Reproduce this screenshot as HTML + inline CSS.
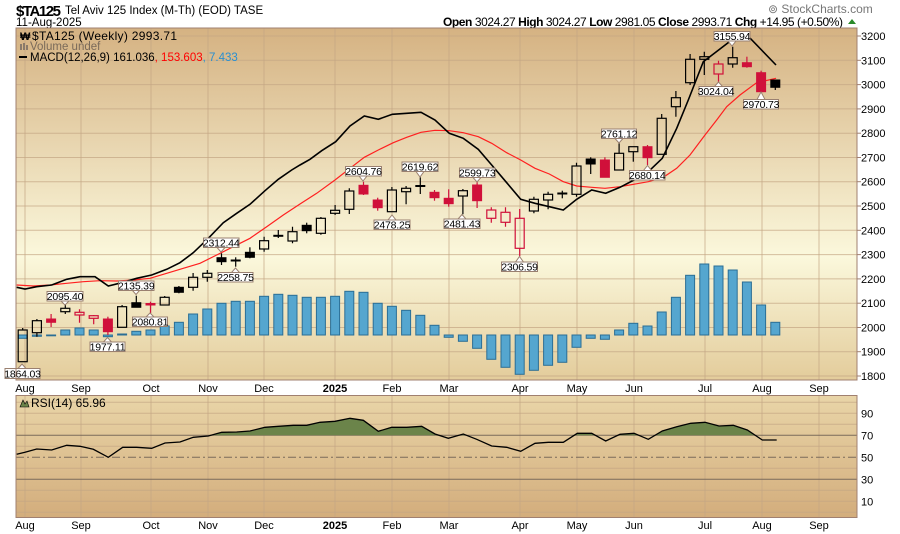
<!DOCTYPE html>
<html><head><meta charset="utf-8"><style>
html,body{margin:0;padding:0;background:#fff;}
svg{display:block;font-family:"Liberation Sans",sans-serif;}
.hb rect{fill:none;stroke:#000;stroke-width:1.2}
.hb path{stroke:#000;stroke-width:1.2;fill:none}
.fb rect{fill:#000;stroke:#000;stroke-width:1}
.fb path{stroke:#000;stroke-width:1.2}
.hr rect{fill:none;stroke:#d0103a;stroke-width:1.2}
.hr path{stroke:#d0103a;stroke-width:1.2;fill:none}
.fr rect{fill:#d0103a;stroke:#d0103a;stroke-width:1}
.fr path{stroke:#d0103a;stroke-width:1.2}
.lb rect{fill:#fff;stroke:#9a8070;stroke-width:1}
.lb polygon{fill:#fff;stroke:#9a8070}
.lb text{font-size:10.5px;fill:#000;text-anchor:middle;letter-spacing:-0.2px}
.grid line{stroke:#c4a684;stroke-width:1;opacity:.7}
.ax{font-size:11px;fill:#000}
</style></head><body>
<svg width="900" height="534" viewBox="0 0 900 534" xmlns="http://www.w3.org/2000/svg">
<defs>
<linearGradient id="gm" x1="0" y1="0" x2="0" y2="1">
<stop offset="0" stop-color="#d5b282"/><stop offset="0.65" stop-color="#fbf8dc"/><stop offset="1" stop-color="#e3cc9b"/>
</linearGradient>
<linearGradient id="gr" x1="0" y1="0" x2="0" y2="1">
<stop offset="0" stop-color="#e9d5a8"/><stop offset="1" stop-color="#d3ad7c"/>
</linearGradient>
<clipPath id="rc"><rect x="16" y="395.5" width="841" height="122"/></clipPath>
</defs>

<!-- header -->
<text x="16" y="16" font-size="15" font-weight="bold" textLength="45">$TA125</text>
<text x="65" y="14" font-size="11.5">Tel Aviv 125 Index (M-Th) (EOD)  TASE</text>
<text x="16" y="26" font-size="11.5">11-Aug-2025</text>
<text x="768" y="13" font-size="12" fill="#777">⊚ StockCharts.com</text>
<text x="443" y="26" font-size="12" textLength="400"><tspan font-weight="bold">Open</tspan> 3024.27  <tspan font-weight="bold">High</tspan> 3024.27  <tspan font-weight="bold">Low</tspan> 2981.05  <tspan font-weight="bold">Close</tspan> 2993.71  <tspan font-weight="bold">Chg</tspan> +14.95 (+0.50%)</text>
<polygon points="848,24 856,24 852,19" fill="#2a8a2a"/>

<!-- main panel -->
<rect x="16" y="28" width="841" height="352" fill="url(#gm)"/>
<g class="grid">
<line x1="16" x2="857" y1="36" y2="36"/><line x1="16" x2="857" y1="60.3" y2="60.3"/><line x1="16" x2="857" y1="84.6" y2="84.6"/><line x1="16" x2="857" y1="108.9" y2="108.9"/><line x1="16" x2="857" y1="133.2" y2="133.2"/><line x1="16" x2="857" y1="157.5" y2="157.5"/><line x1="16" x2="857" y1="181.7" y2="181.7"/><line x1="16" x2="857" y1="206" y2="206"/><line x1="16" x2="857" y1="230.3" y2="230.3"/><line x1="16" x2="857" y1="254.6" y2="254.6"/><line x1="16" x2="857" y1="278.9" y2="278.9"/><line x1="16" x2="857" y1="303.2" y2="303.2"/><line x1="16" x2="857" y1="327.5" y2="327.5"/><line x1="16" x2="857" y1="351.7" y2="351.7"/><line x1="16" x2="857" y1="376" y2="376"/>
<line x1="25" x2="25" y1="28" y2="380"/><line x1="81" x2="81" y1="28" y2="380"/><line x1="151" x2="151" y1="28" y2="380"/><line x1="208" x2="208" y1="28" y2="380"/><line x1="264" x2="264" y1="28" y2="380"/><line x1="335" x2="335" y1="28" y2="380"/><line x1="392" x2="392" y1="28" y2="380"/><line x1="449" x2="449" y1="28" y2="380"/><line x1="520" x2="520" y1="28" y2="380"/><line x1="577" x2="577" y1="28" y2="380"/><line x1="634" x2="634" y1="28" y2="380"/><line x1="705" x2="705" y1="28" y2="380"/><line x1="762" x2="762" y1="28" y2="380"/><line x1="819" x2="819" y1="28" y2="380"/>
</g>

<!-- histogram -->
<g fill="#55a6cf" stroke="#2b6e95" stroke-width="1">
<rect x="18.2" y="335" width="9" height="3.3"/><rect x="32.4" y="335" width="9" height="1.3"/><rect x="46.6" y="335" width="9" height="0.8"/><rect x="60.8" y="330" width="9" height="5"/><rect x="75" y="328" width="9" height="7"/><rect x="89.2" y="330" width="9" height="5"/><rect x="103.4" y="335" width="9" height="1.7"/><rect x="117.6" y="334" width="9" height="1"/><rect x="131.8" y="331.3" width="9" height="3.7"/><rect x="146" y="330" width="9" height="5"/><rect x="160.2" y="326" width="9" height="9"/><rect x="174.4" y="322.3" width="9" height="12.7"/><rect x="188.6" y="314" width="9" height="21"/><rect x="202.8" y="309" width="9" height="26"/><rect x="217" y="303.3" width="9" height="31.7"/><rect x="231.2" y="301.3" width="9" height="33.7"/><rect x="245.4" y="301.3" width="9" height="33.7"/><rect x="259.6" y="296.3" width="9" height="38.7"/><rect x="273.8" y="294.3" width="9" height="40.7"/><rect x="288" y="295.3" width="9" height="39.7"/><rect x="302.2" y="297.3" width="9" height="37.7"/><rect x="316.4" y="297.3" width="9" height="37.7"/><rect x="330.6" y="296.3" width="9" height="38.7"/><rect x="344.8" y="291.3" width="9" height="43.7"/><rect x="359" y="292.3" width="9" height="42.7"/><rect x="373.2" y="303.3" width="9" height="31.7"/><rect x="387.4" y="306.3" width="9" height="28.7"/><rect x="401.6" y="310.3" width="9" height="24.7"/><rect x="415.8" y="315.3" width="9" height="19.7"/><rect x="430" y="325.3" width="9" height="9.7"/><rect x="444.2" y="335" width="9" height="2.3"/><rect x="458.4" y="335" width="9" height="6.3"/><rect x="472.6" y="335" width="9" height="13.3"/><rect x="486.8" y="335" width="9" height="24.3"/><rect x="501" y="335" width="9" height="32.3"/><rect x="515.2" y="335" width="9" height="39.3"/><rect x="529.4" y="335" width="9" height="35.3"/><rect x="543.6" y="335" width="9" height="30.3"/><rect x="557.8" y="335" width="9" height="27.3"/><rect x="572" y="335" width="9" height="12.3"/><rect x="586.2" y="335" width="9" height="3.3"/><rect x="600.4" y="335" width="9" height="4.3"/><rect x="614.6" y="330" width="9" height="5"/><rect x="628.8" y="323.3" width="9" height="11.7"/><rect x="643" y="326" width="9" height="9"/><rect x="657.2" y="312" width="9" height="23"/><rect x="671.4" y="297.3" width="9" height="37.7"/><rect x="685.6" y="275.3" width="9" height="59.7"/><rect x="699.8" y="264" width="9" height="71"/><rect x="714" y="266" width="9" height="69"/><rect x="728.2" y="270" width="9" height="65"/><rect x="742.4" y="282" width="9" height="53"/><rect x="756.6" y="305" width="9" height="30"/><rect x="770.8" y="322.3" width="9" height="12.7"/>
</g>

<!-- MACD lines -->
<polyline fill="none" stroke="#ff2020" stroke-width="1.2" points="16.7,285 33.3,286 50,285 66.7,283.3 83.3,281.7 100,280.7 116.7,281 133.3,280 150,278.3 166.7,273.3 183.3,268.3 200,263.3 216.7,255 233.3,246.7 250,238.3 266.7,226.7 283.3,215 300,204 316.7,193.3 335,180 350,168.3 364.3,157.3 378.3,150 393.3,142.7 406.7,137.3 421,132.3 435,130.3 449.3,130.7 463.3,132.7 478.3,136.7 491.7,143.3 506.7,152.7 520.7,160 535,168.3 549.3,174 563.3,181.7 576.7,186 591.7,187.3 605,188.3 620,186.7 648.3,181.7 663.3,177.3 676.7,168.3 690,155 705,135 716.7,120 726.7,106.7 740,95 756.7,82.7 776,78.3"/>
<polyline fill="none" stroke="#000" stroke-width="1.6" points="16.7,287.3 25,289 36.7,286.7 51.7,285 66.7,279.3 80,276.7 95,276.7 108.3,286 121.7,282.7 136.7,278.3 151.7,275 166.7,269.3 180,262.7 193.3,252.7 208.3,238.3 223.3,222.7 236.7,213.3 250,204.3 265,190.7 278.3,179.3 291.7,170 300,165 310,159.3 321.7,150.7 335.7,141.7 350,126 364.3,116 378.3,119.3 392.3,114.3 406.7,113.3 421,112.3 435,120 449.3,133.3 463.3,138.3 478.3,149.3 491.7,165 506.7,182.7 520.7,199.3 535,203.3 549.3,206.7 563.3,210 576.7,199.3 591.7,190 605.7,193.3 620,187.3 634,180 648.3,171.7 662.3,158.3 676.7,128.3 688.3,100 703.3,61.7 731.7,40 748,36 776,65"/>

<!-- candles -->
<g class="hb"><path d="M22.7 328V330M22.7 361.7V362"/><rect x="18.2" y="330" width="9" height="31.7"/></g>
<g class="hb"><path d="M36.9 319V320.7M36.9 332.7V336.7"/><rect x="32.4" y="320.7" width="9" height="12"/></g>
<g class="fr"><path d="M51.1 314V327"/><rect x="46.6" y="319" width="9" height="3.3"/></g>
<g class="hb"><path d="M65.3 305V308.3M65.3 311.7V314"/><rect x="60.8" y="308.3" width="9" height="3.4"/></g>
<g class="hr"><path d="M79.5 309.3V312.3M79.5 315V322.7"/><rect x="75" y="312.3" width="9" height="2.7"/></g>
<g class="hr"><path d="M93.7 315V315.7M93.7 318.3V324.3"/><rect x="89.2" y="315.7" width="9" height="2.6"/></g>
<g class="fr"><path d="M107.9 316.7V335"/><rect x="103.4" y="319" width="9" height="12.7"/></g>
<g class="hb"><path d="M122.1 305V306.7"/><rect x="117.6" y="306.7" width="9" height="20.6"/></g>
<g class="fb"><path d="M136.3 295.7V307.3"/><rect x="131.8" y="302.7" width="9" height="4.6"/></g>
<g class="fr"><path d="M150.5 301.7V313.3"/><rect x="146" y="303.5" width="9" height="1.5"/></g>
<g class="hb"><path d="M164.7 296V297.3M164.7 305V305.5"/><rect x="160.2" y="297.3" width="9" height="7.7"/></g>
<g class="fb"><path d="M178.9 286V293.3"/><rect x="174.4" y="287.3" width="9" height="5"/></g>
<g class="hb"><path d="M193.1 273V277.3M193.1 287.3V290.7"/><rect x="188.6" y="277.3" width="9" height="10"/></g>
<g class="hb"><path d="M207.3 270V273.3M207.3 277.3V281.7"/><rect x="202.8" y="273.3" width="9" height="4"/></g>
<g class="fb"><path d="M221.5 253.3V265"/><rect x="217" y="257.7" width="9" height="4"/></g>
<g class="fb"><path d="M235.7 257.3V266.7"/><rect x="231.2" y="260" width="9" height="1"/></g>
<g class="fb"><path d="M249.9 247.3V258.3"/><rect x="245.4" y="252.3" width="9" height="5"/></g>
<g class="hb"><path d="M264.1 236.7V240.7M264.1 249V251.7"/><rect x="259.6" y="240.7" width="9" height="8.3"/></g>
<g class="fb"><path d="M278.3 230V238"/><rect x="273.8" y="235.3" width="9" height="1"/></g>
<g class="hb"><path d="M292.5 226.7V231.7M292.5 241V243.3"/><rect x="288" y="231.7" width="9" height="9.3"/></g>
<g class="fb"><path d="M306.7 222.7V233.3"/><rect x="302.2" y="225.3" width="9" height="5.4"/></g>
<g class="hb"><path d="M320.9 217V218.3M320.9 233.3V234.7"/><rect x="316.4" y="218.3" width="9" height="15"/></g>
<g class="hb"><path d="M335.1 205V210.3M335.1 213.3V215"/><rect x="330.6" y="210.3" width="9" height="3"/></g>
<g class="hb"><path d="M349.3 188.3V191M349.3 209.3V214"/><rect x="344.8" y="191" width="9" height="18.3"/></g>
<g class="fr"><path d="M363.5 181.7V195"/><rect x="359" y="185.3" width="9" height="8.7"/></g>
<g class="fr"><path d="M377.7 197.7V210.7"/><rect x="373.2" y="200" width="9" height="7.7"/></g>
<g class="hb"><path d="M391.9 187V190"/><rect x="387.4" y="190" width="9" height="21.7"/></g>
<g class="hb"><path d="M406.1 186V188.3M406.1 191.7V204.3"/><rect x="401.6" y="188.3" width="9" height="3.4"/></g>
<g class="fb"><path d="M420.3 177.3V194"/><rect x="415.8" y="185.5" width="9" height="1"/></g>
<g class="fr"><path d="M434.5 190V200.7"/><rect x="430" y="192.3" width="9" height="5.4"/></g>
<g class="fr"><path d="M448.7 189.3V206.7"/><rect x="444.2" y="198.3" width="9" height="5.4"/></g>
<g class="hb"><path d="M462.9 189V190.7M462.9 196V214.3"/><rect x="458.4" y="190.7" width="9" height="5.3"/></g>
<g class="fr"><path d="M477.1 182V208"/><rect x="472.6" y="185" width="9" height="15.7"/></g>
<g class="hr"><path d="M491.3 207.3V210M491.3 218.3V222.7"/><rect x="486.8" y="210" width="9" height="8.3"/></g>
<g class="hr"><path d="M505.5 207.3V212.3M505.5 222.3V226.7"/><rect x="501" y="212.3" width="9" height="10"/></g>
<g class="hr"><path d="M519.7 209V218.3M519.7 248.3V256"/><rect x="515.2" y="218.3" width="9" height="30"/></g>
<g class="hb"><path d="M533.9 196.7V199.3M533.9 211V213.3"/><rect x="529.4" y="199.3" width="9" height="11.7"/></g>
<g class="hb"><path d="M548.1 191.7V194.3M548.1 200V209.3"/><rect x="543.6" y="194.3" width="9" height="5.7"/></g>
<g class="fb"><path d="M562.3 190.7V198.3"/><rect x="557.8" y="193" width="9" height="1"/></g>
<g class="hb"><path d="M576.5 162.7V166M576.5 194.3V196.7"/><rect x="572" y="166" width="9" height="28.3"/></g>
<g class="fb"><path d="M590.7 157.3V174"/><rect x="586.2" y="159" width="9" height="5"/></g>
<g class="fr"><path d="M604.9 157.3V177.3"/><rect x="600.4" y="160" width="9" height="17.3"/></g>
<g class="hb"><path d="M619.1 143.3V153.3"/><rect x="614.6" y="153.3" width="9" height="16.7"/></g>
<g class="hb"><path d="M633.3 151.7V161.7"/><rect x="628.8" y="146.7" width="9" height="5"/></g>
<g class="fr"><path d="M647.5 145V165"/><rect x="643" y="146.7" width="9" height="11"/></g>
<g class="hb"><path d="M661.7 114V118.3"/><rect x="657.2" y="118.3" width="9" height="36"/></g>
<g class="hb"><path d="M675.9 91V97.7M675.9 106.7V116.7"/><rect x="671.4" y="97.7" width="9" height="9"/></g>
<g class="hb"><path d="M690.1 54V59.3M690.1 82.7V85"/><rect x="685.6" y="59.3" width="9" height="23.4"/></g>
<g class="hb"><path d="M704.3 51.7V56.7M704.3 59.3V75"/><rect x="699.8" y="56.7" width="9" height="2.6"/></g>
<g class="hr"><path d="M718.5 60.7V64M718.5 74V81.7"/><rect x="714" y="64" width="9" height="10"/></g>
<g class="hb"><path d="M732.7 46.7V57.7M732.7 64V67.7"/><rect x="728.2" y="57.7" width="9" height="6.3"/></g>
<g class="fr"><path d="M746.9 56.7V67.7"/><rect x="742.4" y="62.7" width="9" height="4"/></g>
<g class="fr"><path d="M761.1 70.7V91.7"/><rect x="756.6" y="72.7" width="9" height="19"/></g>
<g class="fb"><path d="M775.3 80V90"/><rect x="770.8" y="80" width="9" height="7.3"/></g>

<!-- labels -->
<g class="lb">
<polygon points="18,368.5 26,368.5 22,364"/><rect x="5" y="368.5" width="35" height="10"/><text x="22.5" y="377.3">1864.03</text>
<polygon points="61,301 69,301 65,305"/><rect x="47" y="291.5" width="36" height="9.5"/><text x="65" y="300">2095.40</text>
<polygon points="103.5,342 111.5,342 107.5,337.5"/><rect x="90" y="342" width="35" height="9.5"/><text x="107.5" y="350.5">1977.11</text>
<polygon points="132,290 140,290 136,294.5"/><rect x="118.5" y="281" width="35.5" height="9.5"/><text x="136.2" y="289.5">2135.39</text>
<polygon points="146,317 154,317 150,313"/><rect x="132.5" y="317" width="35" height="9.5"/><text x="150" y="325.5">2080.81</text>
<polygon points="217,247.5 225,247.5 221,252"/><rect x="203.5" y="238" width="35.5" height="9.5"/><text x="221.2" y="246.5">2312.44</text>
<polygon points="231.5,272.5 239.5,272.5 235.5,268"/><rect x="218" y="272.5" width="35" height="9.5"/><text x="235.5" y="281">2258.75</text>
<polygon points="359,176 367,176 363,181"/><rect x="345.5" y="166.5" width="36" height="9.5"/><text x="363.5" y="175">2604.76</text>
<polygon points="388,220 396,220 392,215"/><rect x="374" y="220" width="36" height="9.5"/><text x="392" y="228.5">2478.25</text>
<polygon points="416,171.5 424,171.5 420,177"/><rect x="402" y="162" width="36" height="9.5"/><text x="420" y="170.5">2619.62</text>
<polygon points="458,219 466,219 462,214.5"/><rect x="444" y="219" width="36" height="9.5"/><text x="462" y="227.5">2481.43</text>
<polygon points="473,177.5 481,177.5 477,182"/><rect x="459.5" y="168" width="35.5" height="9.5"/><text x="477.2" y="176.5">2599.73</text>
<polygon points="515.5,262 523.5,262 519.5,256.5"/><rect x="501.5" y="262" width="36" height="9.5"/><text x="519.5" y="270.5">2306.59</text>
<polygon points="615,138.5 623,138.5 619,143"/><rect x="601.5" y="129" width="35" height="9.5"/><text x="619" y="137.5">2761.12</text>
<polygon points="643.5,170.5 651.5,170.5 647.5,165.5"/><rect x="629.5" y="170.5" width="35.5" height="9.5"/><text x="647.2" y="179">2680.14</text>
<polygon points="728,41 736,41 732,46"/><rect x="714" y="31.5" width="36" height="9.5"/><text x="732" y="40">3155.94</text>
<polygon points="714.5,86.5 722.5,86.5 718.5,82"/><rect x="699" y="86.5" width="34" height="9.5"/><text x="716" y="95">3024.04</text>
<polygon points="757,99.5 765,99.5 761,92"/><rect x="743.5" y="99.5" width="35" height="9.5"/><text x="761" y="108">2970.73</text>
</g>

<!-- legend -->
<text x="20" y="40" font-size="11" font-weight="bold">₩</text>
<text x="32" y="40" font-size="12" textLength="145">$TA125 (Weekly) 2993.71</text>
<g fill="#8a7a6a"><rect x="20" y="44" width="2" height="6"/><rect x="23" y="43" width="2" height="7"/><rect x="26" y="45" width="2" height="5"/></g>
<text x="30" y="50" font-size="11.5" fill="#7a6a5a">Volume undef</text>
<rect x="19" y="56" width="8" height="2" fill="#000"/>
<text x="30" y="61" font-size="11.5">MACD(12,26,9) 161.036<tspan fill="#ff0000">, 153.603</tspan><tspan fill="#2a8fd0">, 7.433</tspan></text>

<rect x="16" y="28" width="841" height="352" fill="none" stroke="#a08070" stroke-width="1"/>

<!-- right axis main -->
<g class="ax">
<text x="861" y="40">3200</text><text x="861" y="64.3">3100</text><text x="861" y="88.6">3000</text><text x="861" y="112.9">2900</text><text x="861" y="137.2">2800</text><text x="861" y="161.5">2700</text><text x="861" y="185.7">2600</text><text x="861" y="210">2500</text><text x="861" y="234.3">2400</text><text x="861" y="258.6">2300</text><text x="861" y="282.9">2200</text><text x="861" y="307.2">2100</text><text x="861" y="331.5">2000</text><text x="861" y="355.7">1900</text><text x="861" y="380">1800</text>
</g>
<g stroke="#a08070"><line x1="857" x2="861" y1="36" y2="36"/><line x1="857" x2="861" y1="60.3" y2="60.3"/><line x1="857" x2="861" y1="84.6" y2="84.6"/><line x1="857" x2="861" y1="108.9" y2="108.9"/><line x1="857" x2="861" y1="133.2" y2="133.2"/><line x1="857" x2="861" y1="157.5" y2="157.5"/><line x1="857" x2="861" y1="181.7" y2="181.7"/><line x1="857" x2="861" y1="206" y2="206"/><line x1="857" x2="861" y1="230.3" y2="230.3"/><line x1="857" x2="861" y1="254.6" y2="254.6"/><line x1="857" x2="861" y1="278.9" y2="278.9"/><line x1="857" x2="861" y1="303.2" y2="303.2"/><line x1="857" x2="861" y1="327.5" y2="327.5"/><line x1="857" x2="861" y1="351.7" y2="351.7"/><line x1="857" x2="861" y1="376" y2="376"/></g>

<!-- x labels main -->
<g class="ax" text-anchor="middle">
<text x="25" y="392">Aug</text><text x="81" y="392">Sep</text><text x="151" y="392">Oct</text><text x="208" y="392">Nov</text><text x="264" y="392">Dec</text><text x="335" y="392" font-weight="bold">2025</text><text x="392" y="392">Feb</text><text x="449" y="392">Mar</text><text x="520" y="392">Apr</text><text x="577" y="392">May</text><text x="634" y="392">Jun</text><text x="705" y="392">Jul</text><text x="762" y="392">Aug</text><text x="819" y="392">Sep</text>
</g>

<!-- RSI panel -->
<rect x="16" y="395.5" width="841" height="122" fill="url(#gr)"/>
<g class="grid">
<line x1="16" x2="857" y1="402.3" y2="402.3"/><line x1="16" x2="857" y1="413.3" y2="413.3"/><line x1="16" x2="857" y1="424.3" y2="424.3"/><line x1="16" x2="857" y1="446.3" y2="446.3"/><line x1="16" x2="857" y1="468.3" y2="468.3"/><line x1="16" x2="857" y1="490.3" y2="490.3"/><line x1="16" x2="857" y1="501.3" y2="501.3"/><line x1="16" x2="857" y1="512.3" y2="512.3"/>
<line x1="25" x2="25" y1="395" y2="517"/><line x1="81" x2="81" y1="395" y2="517"/><line x1="151" x2="151" y1="395" y2="517"/><line x1="208" x2="208" y1="395" y2="517"/><line x1="264" x2="264" y1="395" y2="517"/><line x1="335" x2="335" y1="395" y2="517"/><line x1="392" x2="392" y1="395" y2="517"/><line x1="449" x2="449" y1="395" y2="517"/><line x1="520" x2="520" y1="395" y2="517"/><line x1="577" x2="577" y1="395" y2="517"/><line x1="634" x2="634" y1="395" y2="517"/><line x1="705" x2="705" y1="395" y2="517"/><line x1="762" x2="762" y1="395" y2="517"/><line x1="819" x2="819" y1="395" y2="517"/>
</g>
<line x1="16" x2="857" y1="435.3" y2="435.3" stroke="#7a6a5a" stroke-width="1"/>
<line x1="16" x2="857" y1="479.3" y2="479.3" stroke="#7a6a5a" stroke-width="1"/>
<line x1="16" x2="857" y1="457.3" y2="457.3" stroke="#7a6a5a" stroke-width="1" stroke-dasharray="8,3,2,3"/>
<g clip-path="url(#rc)">
<clipPath id="above70"><rect x="16" y="395" width="841" height="40.3"/></clipPath>
<polygon clip-path="url(#above70)" fill="#6b844a" points="16.7,454.3 25,452.3 36.7,449 51.7,450 66.7,445.3 80,446.3 93.3,449.3 108.3,457.3 122.7,447.3 136.7,447.3 151.7,448.3 165,443 180,442 193.3,437.3 208.3,436 221.7,432.3 236.7,432 250,431 265,427.3 278.3,426.3 293.3,425.3 306.7,425.3 320,422.3 335,421.3 350,418.3 363.3,420.3 378.3,431.3 391.7,427.3 406.7,427.3 421.7,426.3 435,434 448.3,438.3 463.3,434 476.7,439.3 491.7,446 506.7,447.3 520.7,451.3 535,443.3 548.3,442.3 563.3,442.3 577.3,433.3 591.7,433.3 605.7,441 620,434.3 634,433.3 648.3,439.3 662.3,431 676.7,426.7 690.7,423.3 705,422.3 719,426 733.3,425.3 747.3,430 762.3,440 776.7,440 776.7,460 16.7,460"/>
<polyline fill="none" stroke="#000" stroke-width="1.3" points="16.7,454.3 25,452.3 36.7,449 51.7,450 66.7,445.3 80,446.3 93.3,449.3 108.3,457.3 122.7,447.3 136.7,447.3 151.7,448.3 165,443 180,442 193.3,437.3 208.3,436 221.7,432.3 236.7,432 250,431 265,427.3 278.3,426.3 293.3,425.3 306.7,425.3 320,422.3 335,421.3 350,418.3 363.3,420.3 378.3,431.3 391.7,427.3 406.7,427.3 421.7,426.3 435,434 448.3,438.3 463.3,434 476.7,439.3 491.7,446 506.7,447.3 520.7,451.3 535,443.3 548.3,442.3 563.3,442.3 577.3,433.3 591.7,433.3 605.7,441 620,434.3 634,433.3 648.3,439.3 662.3,431 676.7,426.7 690.7,423.3 705,422.3 719,426 733.3,425.3 747.3,430 762.3,440 776.7,440"/>
</g>
<polygon points="20,407 23,400 25,404 27,401 29,407" fill="#6b844a" stroke="#000" stroke-width="0.6"/>
<text x="31" y="407" font-size="12">RSI(14) 65.96</text>
<rect x="16" y="395.5" width="841" height="122" fill="none" stroke="#a08070" stroke-width="1"/>
<g class="ax">
<text x="861" y="417.3">90</text><text x="861" y="439.3">70</text><text x="861" y="461.3">50</text><text x="861" y="483.3">30</text><text x="861" y="505.3">10</text>
</g>
<g class="ax" text-anchor="middle">
<text x="25" y="529">Aug</text><text x="81" y="529">Sep</text><text x="151" y="529">Oct</text><text x="208" y="529">Nov</text><text x="264" y="529">Dec</text><text x="335" y="529" font-weight="bold">2025</text><text x="392" y="529">Feb</text><text x="449" y="529">Mar</text><text x="520" y="529">Apr</text><text x="577" y="529">May</text><text x="634" y="529">Jun</text><text x="705" y="529">Jul</text><text x="762" y="529">Aug</text><text x="819" y="529">Sep</text>
</g>
</svg>
</body></html>
